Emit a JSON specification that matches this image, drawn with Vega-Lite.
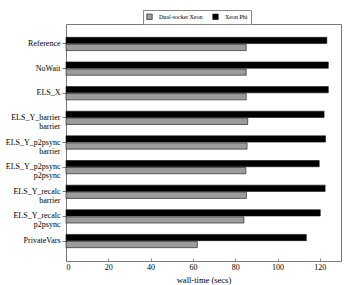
{
  "$schema": "https://vega.github.io/schema/vega-lite/v6.json",
  "autosize": {"type": "none"},
  "padding": {"left": 66, "top": 24, "right": 3, "bottom": 24},
  "width": 275,
  "height": 237,
  "background": "white",
  "data": {
    "values": [
      {"config": "Reference", "machine": "Xeon Phi", "time": 123.3},
      {"config": "Reference", "machine": "Dual-socket Xeon", "time": 85.2},
      {"config": "NoWait", "machine": "Xeon Phi", "time": 124.0},
      {"config": "NoWait", "machine": "Dual-socket Xeon", "time": 85.2},
      {"config": "ELS_X", "machine": "Xeon Phi", "time": 124.0},
      {"config": "ELS_X", "machine": "Dual-socket Xeon", "time": 85.2},
      {"config": "ELS_Y_barrier barrier", "machine": "Xeon Phi", "time": 122.0},
      {"config": "ELS_Y_barrier barrier", "machine": "Dual-socket Xeon", "time": 85.9},
      {"config": "ELS_Y_p2psync barrier", "machine": "Xeon Phi", "time": 122.7},
      {"config": "ELS_Y_p2psync barrier", "machine": "Dual-socket Xeon", "time": 85.6},
      {"config": "ELS_Y_p2psync p2psync", "machine": "Xeon Phi", "time": 119.7},
      {"config": "ELS_Y_p2psync p2psync", "machine": "Dual-socket Xeon", "time": 85.0},
      {"config": "ELS_Y_recalc barrier", "machine": "Xeon Phi", "time": 122.5},
      {"config": "ELS_Y_recalc barrier", "machine": "Dual-socket Xeon", "time": 85.3},
      {"config": "ELS_Y_recalc p2psync", "machine": "Xeon Phi", "time": 120.2},
      {"config": "ELS_Y_recalc p2psync", "machine": "Dual-socket Xeon", "time": 84.1},
      {"config": "PrivateVars", "machine": "Xeon Phi", "time": 113.6},
      {"config": "PrivateVars", "machine": "Dual-socket Xeon", "time": 62.1}
    ]
  },
  "mark": {"type": "bar", "stroke": "#111", "strokeWidth": 0.6},
  "encoding": {
    "y": {
      "field": "config",
      "type": "nominal",
      "sort": null,
      "scale": {"paddingInner": 0, "paddingOuter": 0.31},
      "axis": {
        "title": null,
        "domain": false,
        "tickSize": 4,
        "tickColor": "#555",
        "tickWidth": 0.8,
        "labelPadding": 2,
        "labelFont": "Liberation Serif",
        "labelFontSize": 8,
        "labelColor": "#000",
        "labelLineHeight": 9,
        "labelExpr": "split(datum.label, ' ')"
      }
    },
    "yOffset": {
      "field": "machine",
      "type": "nominal",
      "sort": ["Xeon Phi", "Dual-socket Xeon"],
      "scale": {"paddingInner": 0.11, "paddingOuter": 0.81}
    },
    "x": {
      "field": "time",
      "type": "quantitative",
      "scale": {"domain": [0, 130], "nice": false},
      "axis": {
        "title": "wall-time (secs)",
        "values": [0, 20, 40, 60, 80, 100, 120],
        "grid": false,
        "domain": false,
        "tickSize": -3,
        "tickColor": "#777",
        "tickWidth": 0.8,
        "labelPadding": 5,
        "labelFont": "Liberation Serif",
        "labelFontSize": 8,
        "labelColor": "#000",
        "titleFont": "Liberation Serif",
        "titleFontSize": 8.5,
        "titleFontWeight": "normal",
        "titleColor": "#000",
        "titlePadding": 4
      }
    },
    "fill": {
      "field": "machine",
      "type": "nominal",
      "sort": ["Dual-socket Xeon", "Xeon Phi"],
      "scale": {"domain": ["Dual-socket Xeon", "Xeon Phi"], "range": ["#9c9c9c", "#000000"]},
      "legend": {
        "title": null,
        "orient": "none",
        "legendX": 77,
        "legendY": -14,
        "direction": "horizontal",
        "symbolType": "square",
        "symbolSize": 30,
        "symbolStrokeColor": "#111",
        "symbolStrokeWidth": 0.6,
        "labelFont": "Liberation Serif",
        "labelFontSize": 6,
        "labelColor": "#000",
        "columnPadding": 8,
        "labelOffset": 6,
        "padding": 3,
        "strokeColor": "#888",
        "fillColor": "white"
      }
    }
  },
  "config": {
    "view": {"stroke": "#777", "strokeWidth": 1}
  }
}
